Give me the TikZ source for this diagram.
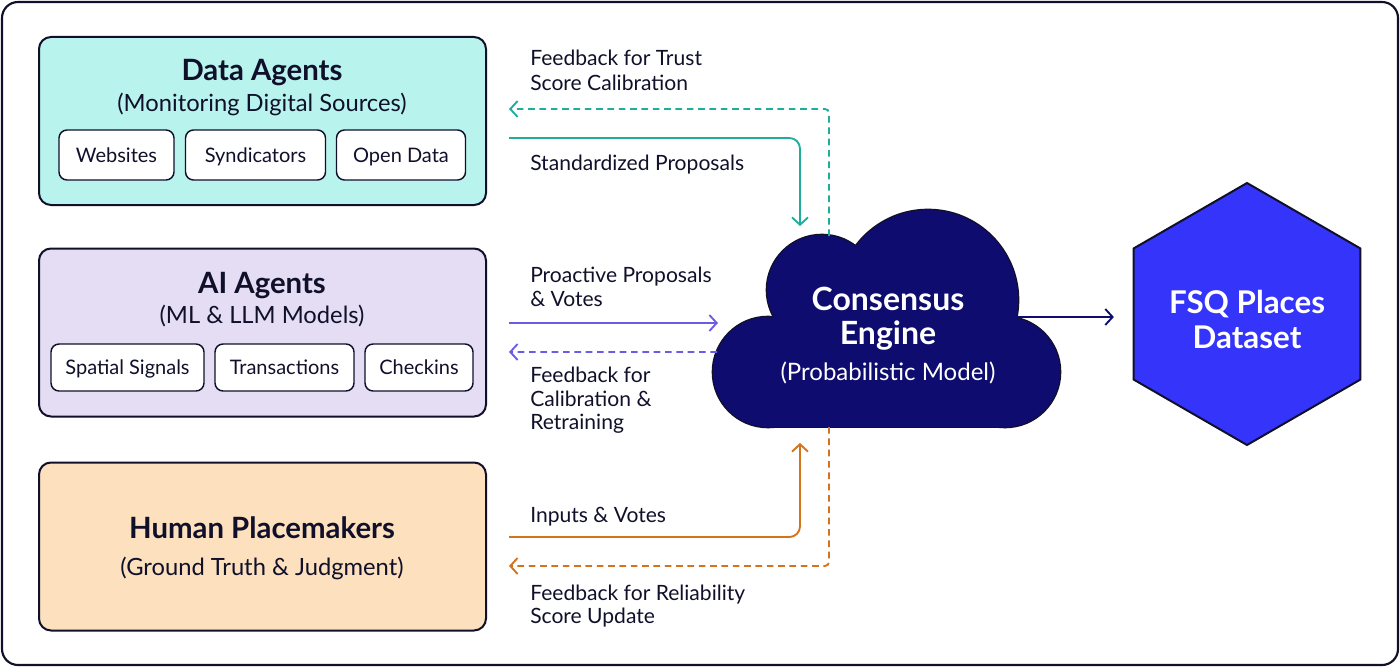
\documentclass[tikz,border=0pt]{standalone}
\usepackage{fontspec}
\setmainfont{Lato}
\usetikzlibrary{arrows.meta,shapes.geometric}
\definecolor{ink}{HTML}{10102A}
\definecolor{datafill}{HTML}{B9F3EE}
\definecolor{aifill}{HTML}{E4DDF4}
\definecolor{humanfill}{HTML}{FDE0BE}
\definecolor{tealc}{HTML}{1FAE9E}
\definecolor{purplec}{HTML}{6B5CE6}
\definecolor{orangec}{HTML}{D4731C}
\definecolor{navyc}{HTML}{0E0C6E}
\definecolor{bluec}{HTML}{3434FA}
\tikzset{
  bigbox/.style={draw=ink, line width=1.5pt, rounded corners=9pt, minimum width=335.25pt, minimum height=126pt, inner sep=0pt},
  subbox/.style={draw=ink, line width=1.1pt, fill=white, rounded corners=6pt, minimum height=37.5pt, inner sep=0pt, text=ink, font=\fontsize{15}{18}\selectfont, text height=10.7pt, text depth=0pt},
  titletext/.style={anchor=base, inner sep=0pt, text=ink, font=\fontsize{22}{26}\selectfont\bfseries},
  subtext/.style={anchor=base, inner sep=0pt, text=ink, font=\fontsize{17.8}{21}\selectfont},
  labeltext/.style={anchor=base west, inner sep=0pt, text=ink, font=\fontsize{15.8}{18}\selectfont},
  cloudbig/.style={anchor=base, inner sep=0pt, text=white, font=\fontsize{24}{28}\selectfont\bfseries},
  cloudsmall/.style={anchor=base, inner sep=0pt, text=white, font=\fontsize{18}{21}\selectfont},
  arr/.style={line width=1.4pt, -{Straight Barb[length=5.5pt,width=12pt]}},
  darr/.style={arr, dash pattern=on 5pt off 3.5pt},
}
\begin{document}
\begin{tikzpicture}[x=0.75pt,y=-0.75pt]
\useasboundingbox (0,0) rectangle (1400,667);
\draw[ink, line width=1.6pt, rounded corners=12pt] (2,2) rectangle (1398,665);

% left boxes
\node[bigbox, fill=datafill] (data) at (262.5,121) {};
\node[bigbox, fill=aifill] (ai) at (262.5,332.5) {};
\node[bigbox, fill=humanfill] (human) at (262.5,546.5) {};

\node[titletext] (dataT) at (262,80) {Data Agents};
\node[subtext] (dataS) at (262,112) {(Monitoring Digital Sources)};
\node[subbox, minimum width=86.25pt] (web) at (116.5,155) {Websites};
\node[subbox, minimum width=105pt] (synd) at (255.5,155) {Syndicators};
\node[subbox, minimum width=96.75pt] (open) at (401,155) {Open Data};

\node[titletext] (aiT) at (262,293) {AI Agents};
\node[subtext] (aiS) at (262,323) {(ML \& LLM Models)};
\node[subbox, minimum width=114.75pt, minimum height=35.25pt] (spat) at (127.5,367.5) {Spatial Signals};
\node[subbox, minimum width=104.25pt, minimum height=35.25pt] (trans) at (284.5,367.5) {Transactions};
\node[subbox, minimum width=81pt, minimum height=35.25pt] (check) at (419,367.5) {Checkins};

\node[titletext] (humT) at (262,538) {Human Placemakers};
\node[subtext] (humS) at (262,575) {(Ground Truth \& Judgment)};

% cloud
\draw[ink, line width=2pt] (768,372) circle[radius=41.25pt];
\draw[ink, line width=2pt] (822,290) circle[radius=41.25pt];
\draw[ink, line width=2pt] (928,300) circle[radius=67.5pt];
\draw[ink, line width=2pt] (1005,372) circle[radius=41.25pt];
\draw[ink, line width=2pt] (768,320) rectangle (1005,427);
\fill[navyc] (768,372) circle[radius=41.25pt];
\fill[navyc] (822,290) circle[radius=41.25pt];
\fill[navyc] (928,300) circle[radius=67.5pt];
\fill[navyc] (1005,372) circle[radius=41.25pt];
\fill[navyc] (768,320) rectangle (1005,427);
\node[cloudbig] (ceA) at (888,310) {Consensus};
\node[cloudbig] (ceB) at (888,344) {Engine};
\node[cloudsmall] (ceC) at (888,380) {(Probabilistic Model)};

\coordinate (cT1) at (800,226);
\coordinate (cT2) at (829,236);
\coordinate (cL1) at (718,323);
\coordinate (cL2) at (717,352);
\coordinate (cB1) at (800,443);
\coordinate (cB2) at (829,427);
\coordinate (cR) at (1012,317);

% hexagon
\node[regular polygon, regular polygon sides=6, shape border rotate=30, minimum size=196.5pt, inner sep=0pt, draw=ink, line width=1.5pt, fill=bluec] (hex) at (1247,314) {};
\node[cloudbig, font=\fontsize{23.5}{28}\selectfont\bfseries] (hexA) at (1247,313) {FSQ Places};
\node[cloudbig, font=\fontsize{23.5}{28}\selectfont\bfseries] (hexB) at (1247,348) {Dataset};

% connectors
\draw[arr, tealc, rounded corners=8pt, shorten <=16.5pt] ([yshift=-12.75pt]data.east) -| (cT1);
\draw[darr, tealc, rounded corners=3pt, shorten >=16.5pt] (cT2) |- ([yshift=9pt]data.east);
\draw[arr, purplec, shorten <=16.5pt] ([yshift=7.1pt]ai.east) -- (cL1);
\draw[darr, purplec, shorten >=16.5pt] (cL2) -- ([yshift=-14.6pt]ai.east);
\draw[arr, orangec, rounded corners=8pt, shorten <=16.5pt] ([yshift=7.1pt]human.east) -| (cB1);
\draw[darr, orangec, rounded corners=3pt, shorten >=16.5pt] (cB2) |- ([yshift=-14.6pt]human.east);
\draw[arr, navyc, shorten >=14pt] (cR) -- (cR -| hex.west);

% labels
\node[labeltext] (l1a) at (530,66) {Feedback for Trust};
\node[labeltext] (l1b) at (530,90) {Score Calibration};
\node[labeltext] (l2) at (530,170) {Standardized Proposals};
\node[labeltext] (l3a) at (530,282) {Proactive Proposals};
\node[labeltext] (l3b) at (530,306) {\& Votes};
\node[labeltext] (l4a) at (530,382) {Feedback for};
\node[labeltext] (l4b) at (530,406) {Calibration \&};
\node[labeltext] (l4c) at (530,429) {Retraining};
\node[labeltext] (l5) at (530,522) {Inputs \& Votes};
\node[labeltext] (l6a) at (530,600) {Feedback for Reliability};
\node[labeltext] (l6b) at (530,623) {Score Update};
\end{tikzpicture}
\end{document}
